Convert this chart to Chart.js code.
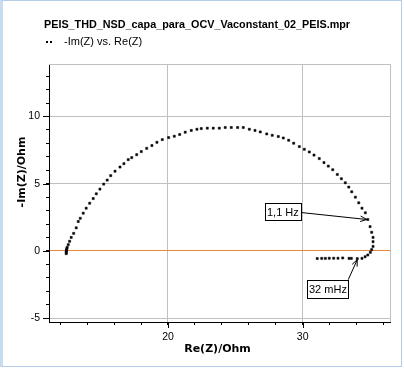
<!DOCTYPE html>
<html>
<head>
<meta charset="utf-8">
<script src="https://cdn.jsdelivr.net/npm/chart.js@4.4.0/dist/chart.umd.min.js"></script>
<style>
  html, body { margin: 0; padding: 0; background: #fff; }
  #wrap { position: relative; width: 404px; height: 369px; }
  #frame { position: absolute; left: 0; top: 0; width: 398px; height: 365px;
           border: 1px solid #b4cde8; border-left: 3px solid #c8dcf0; pointer-events: none; }
</style>
</head>
<body>
<div id="wrap">
  <canvas id="nyquist" width="404" height="369"></canvas>
  <div id="frame"></div>
</div>
<script>
// PEIS data (high frequency -> low frequency)
const reZ = [
  12.45, 12.45, 12.46, 12.47, 12.49, 12.52, 12.60, 12.70, 12.82, 13.00,
  13.19, 13.34, 13.49, 13.71, 13.93, 14.19, 14.45, 14.68, 14.95, 15.23,
  15.49, 15.75, 16.07, 16.44, 16.73, 17.05, 17.31, 17.68, 18.02, 18.42,
  18.81, 19.18, 19.58, 20.05, 20.47, 20.87, 21.28, 21.73, 22.15, 22.47,
  22.92, 23.36, 23.81, 24.25, 24.70, 25.17, 25.59, 26.04, 26.46, 26.85,
  27.33, 27.74, 28.19, 28.56, 28.96, 29.33, 29.75, 30.12, 30.49, 30.84,
  31.23, 31.58, 31.90, 32.23, 32.57, 32.87, 33.16, 33.42, 33.64, 33.91,
  34.16, 34.40, 34.65, 34.83, 35.00, 35.12, 35.22, 35.22, 35.22, 35.12,
  35.02, 34.83, 34.63, 34.40, 34.05, 33.61, 33.44, 32.97, 32.62, 32.30,
  31.97, 31.68, 31.41, 31.08
];
const minusImZ = [
  -0.20, -0.10, 0.00, 0.08, 0.17, 0.27, 0.47, 0.72, 1.01, 1.31,
  1.72, 2.19, 2.43, 2.81, 3.18, 3.55, 3.90, 4.25, 4.60, 4.97,
  5.27, 5.60, 5.93, 6.24, 6.49, 6.79, 6.94, 7.16, 7.39, 7.63,
  7.84, 8.08, 8.28, 8.43, 8.53, 8.66, 8.83, 8.96, 9.05, 9.10,
  9.13, 9.13, 9.13, 9.18, 9.18, 9.18, 9.18, 9.05, 8.96, 8.85,
  8.70, 8.60, 8.51, 8.40, 8.23, 8.01, 7.76, 7.56, 7.36, 7.13,
  6.87, 6.57, 6.31, 6.04, 5.69, 5.37, 5.07, 4.75, 4.40, 4.00,
  3.58, 3.18, 2.84, 2.34, 1.81, 1.39, 1.01, 0.69, 0.34, 0.10,
  -0.10, -0.30, -0.43, -0.55, -0.57, -0.55, -0.55, -0.52, -0.54, -0.54,
  -0.54, -0.55, -0.55, -0.56
];

// frequency labels pointing at points
const freqLabels = ['1,1 Hz', '32 mHz'];
const freqRe = [34.83, 34.05];
const freqIm = [2.34, -0.57];

const fileTitle = 'PEIS_THD_NSD_capa_para_OCV_Vaconstant_02_PEIS.mpr';
const seriesName = '-Im(Z) vs. Re(Z)';
const xTitle = 'Re(Z)/Ohm';
const yTitle = '-Im(Z)/Ohm';

const points = reZ.map((x, i) => ({ x: x, y: minusImZ[i] }));

function arrow(ctx, x0, y0, x1, y1) {
  ctx.beginPath();
  ctx.moveTo(x0, y0);
  ctx.lineTo(x1, y1);
  const a = Math.atan2(y1 - y0, x1 - x0);
  const h = 7;
  ctx.moveTo(x1 - h * Math.cos(a - 0.4), y1 - h * Math.sin(a - 0.4));
  ctx.lineTo(x1, y1);
  ctx.lineTo(x1 - h * Math.cos(a + 0.4), y1 - h * Math.sin(a + 0.4));
  ctx.stroke();
}

function labelBox(ctx, text, left, top, w, h) {
  ctx.fillStyle = '#fff';
  ctx.fillRect(left, top, w, h);
  ctx.strokeStyle = '#000';
  ctx.strokeRect(left + 0.5, top + 0.5, w, h);
  ctx.fillStyle = '#000';
  ctx.textAlign = 'left';
  ctx.textBaseline = 'middle';
  ctx.fillText(text, left + 2, top + h / 2 + 1);
}

const decor = {
  id: 'decor',
  beforeDatasetsDraw(chart) {
    const { ctx, chartArea: a } = chart;
    const xs = chart.scales.x, ys = chart.scales.y;
    ctx.save();
    ctx.lineWidth = 1;
    // grey frame top + right
    ctx.strokeStyle = '#c0c0c0';
    ctx.beginPath();
    ctx.moveTo(a.left, a.top + 0.5);
    ctx.lineTo(Math.round(a.right) + 0.5, a.top + 0.5);
    ctx.lineTo(Math.round(a.right) + 0.5, a.bottom);
    ctx.stroke();
    // longer major ticks
    ctx.strokeStyle = '#000';
    ctx.beginPath();
    xs.ticks.forEach(t => {
      if (t.value % 10 === 0) {
        const px = Math.round(xs.getPixelForValue(t.value)) + 0.5;
        ctx.moveTo(px, a.bottom);
        ctx.lineTo(px, a.bottom + 6);
      }
    });
    ys.ticks.forEach(t => {
      if (t.value % 5 === 0) {
        const py = Math.round(ys.getPixelForValue(t.value)) + 0.5;
        ctx.moveTo(a.left - 6, py);
        ctx.lineTo(a.left, py);
      }
    });
    ctx.stroke();
    ctx.restore();
  },
  afterDraw(chart) {
    const { ctx, chartArea: a } = chart;
    const xs = chart.scales.x, ys = chart.scales.y;
    ctx.save();
    ctx.fillStyle = '#000';
    // file title
    ctx.font = 'bold 10.8px "Liberation Sans", Arial, sans-serif';
    ctx.textAlign = 'left';
    ctx.textBaseline = 'alphabetic';
    ctx.fillText(fileTitle, 44, 28);
    // legend
    ctx.fillRect(46, 41, 2, 2);
    ctx.fillRect(50, 41, 2, 2);
    ctx.font = '11px "Liberation Sans", Arial, sans-serif';
    ctx.fillText(seriesName, 64, 45);
    // axis titles
    ctx.font = 'bold 11px "DejaVu Sans", sans-serif';
    ctx.textAlign = 'center';
    ctx.textBaseline = 'middle';
    ctx.fillText(xTitle, (a.left + a.right) / 2 - 2, 349);
    ctx.translate(22, 172);
    ctx.rotate(-Math.PI / 2);
    ctx.fillText(yTitle, 0, 0);
    ctx.setTransform(1, 0, 0, 1, 0, 0);
    // frequency annotations
    ctx.font = '11px "Liberation Sans", Arial, sans-serif';
    ctx.lineWidth = 1;
    ctx.strokeStyle = '#000';
    const p0x = xs.getPixelForValue(freqRe[0]), p0y = ys.getPixelForValue(freqIm[0]);
    arrow(ctx, p0x - 67, p0y - 7, p0x - 1, p0y);
    labelBox(ctx, freqLabels[0], Math.round(p0x - 103), Math.round(p0y - 16), 36, 17);
    const p1x = xs.getPixelForValue(freqRe[1]), p1y = ys.getPixelForValue(freqIm[1]);
    arrow(ctx, p1x - 9, p1y + 21, p1x, p1y + 1);
    labelBox(ctx, freqLabels[1], Math.round(p1x - 50), Math.round(p1y + 21), 41, 18);
    ctx.restore();
  }
};

const tickFont = { family: 'Liberation Sans', size: 10.5 };

new Chart(document.getElementById('nyquist'), {
  type: 'scatter',
  data: {
    datasets: [{
      label: seriesName,
      data: points,
      pointStyle: 'rect',
      pointRadius: 1.5,
      borderWidth: 0.5,
      backgroundColor: '#000',
      borderColor: '#000',
      showLine: false
    }]
  },
  options: {
    responsive: false,
    devicePixelRatio: 1,
    animation: false,
    layout: { padding: { left: 0, top: 64, right: 14, bottom: 0 } },
    plugins: { legend: { display: false }, title: { display: false }, tooltip: { enabled: false } },
    scales: {
      x: {
        type: 'linear',
        position: 'bottom',
        min: 11.17,
        max: 36.48,
        afterFit: s => { s.height = 47; },
        ticks: {
          stepSize: 2, includeBounds: false, autoSkip: false, maxRotation: 0,
          padding: 6, color: '#000', font: tickFont,
          callback: v => (v % 10 === 0 ? v : '')
        },
        grid: {
          color: c => (c.tick && c.tick.value % 10 === 0 ? '#c0c0c0' : 'rgba(0,0,0,0)'),
          tickColor: '#000',
          tickLength: 3
        },
        border: { color: '#000' }
      },
      y: {
        type: 'linear',
        position: 'left',
        min: -5.28,
        max: 13.9,
        afterFit: s => { s.width = 49; },
        ticks: {
          stepSize: 1, includeBounds: false, autoSkip: false,
          padding: 6, color: '#000', font: tickFont,
          callback: v => (v % 5 === 0 ? v : '')
        },
        grid: {
          color: c => {
            if (!c.tick || c.tick.value % 5 !== 0) return 'rgba(0,0,0,0)';
            return c.tick.value === 0 ? '#e8893a' : '#c0c0c0';
          },
          tickColor: '#000',
          tickLength: 3
        },
        border: { color: '#000' }
      }
    }
  },
  plugins: [decor]
});
</script>
</body>
</html>
